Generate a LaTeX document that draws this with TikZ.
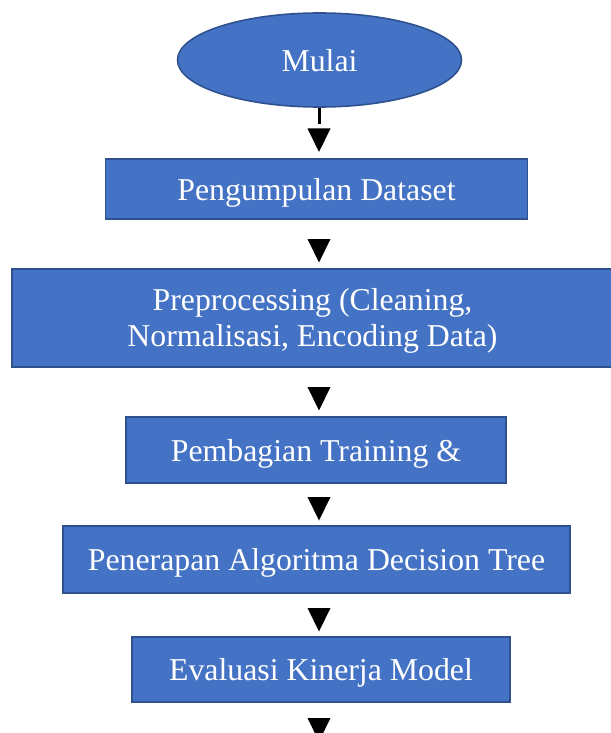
\documentclass[tikz,border=0pt]{standalone}
\usepackage{fontspec}
\setmainfont{Liberation Serif}
\usetikzlibrary{shapes.geometric}
\definecolor{stepfill}{HTML}{4472C4}
\definecolor{stepedge}{HTML}{2F528F}

\begin{document}
\begin{tikzpicture}[x=1pt, y=-1pt,
  every node/.style={font=\fontsize{31.8}{36}\selectfont, text=white, inner sep=0pt,
    text height=27pt, text depth=4.8pt},
  stepbox/.style={draw=stepedge, fill=stepfill, line width=1.6pt, rectangle, align=center},
  startbox/.style={draw=stepedge, fill=stepfill, line width=1.6pt, ellipse}]
  \useasboundingbox (0,0) rectangle (610,733);

  \node[startbox, minimum width=284, minimum height=94] (mulai) at (319.5,60) {Mulai};

  \node[stepbox, minimum width=422, minimum height=60] (dataset) at (316.5,189) {Pengumpulan Dataset};
  \node[stepbox, minimum width=601, minimum height=98, text height={}, text depth=2pt] (prepro) at (312.5,318) {Preprocessing (Cleaning,\\Normalisasi, Encoding Data)};
  \node[stepbox, minimum width=380, minimum height=66] (bagi) at (316,450) {Pembagian Training \&};
  \node[stepbox, minimum width=507, minimum height=67] (dtree) at (316.5,559.5) {Penerapan Algoritma Decision Tree};
  \node[stepbox, minimum width=378, minimum height=65] (evaluasi) at (321,669.5) {Evaluasi Kinerja Model};

  % short stub under the start ellipse
  \path (mulai.south) ++(0,16) coordinate (stub);
  \draw[line width=2.5pt] (mulai.south) -- (stub);

  % arrow heads between the steps
  \foreach \t [count=\i] in {128.5,239,387,497,608,718} {
    \coordinate (tip\i) at (319,\t);
    \fill (tip\i) ++(-11.5,0) -- ++(23,0) -- ++(-11.5,23.5) -- cycle;
  }
\end{tikzpicture}
\end{document}
